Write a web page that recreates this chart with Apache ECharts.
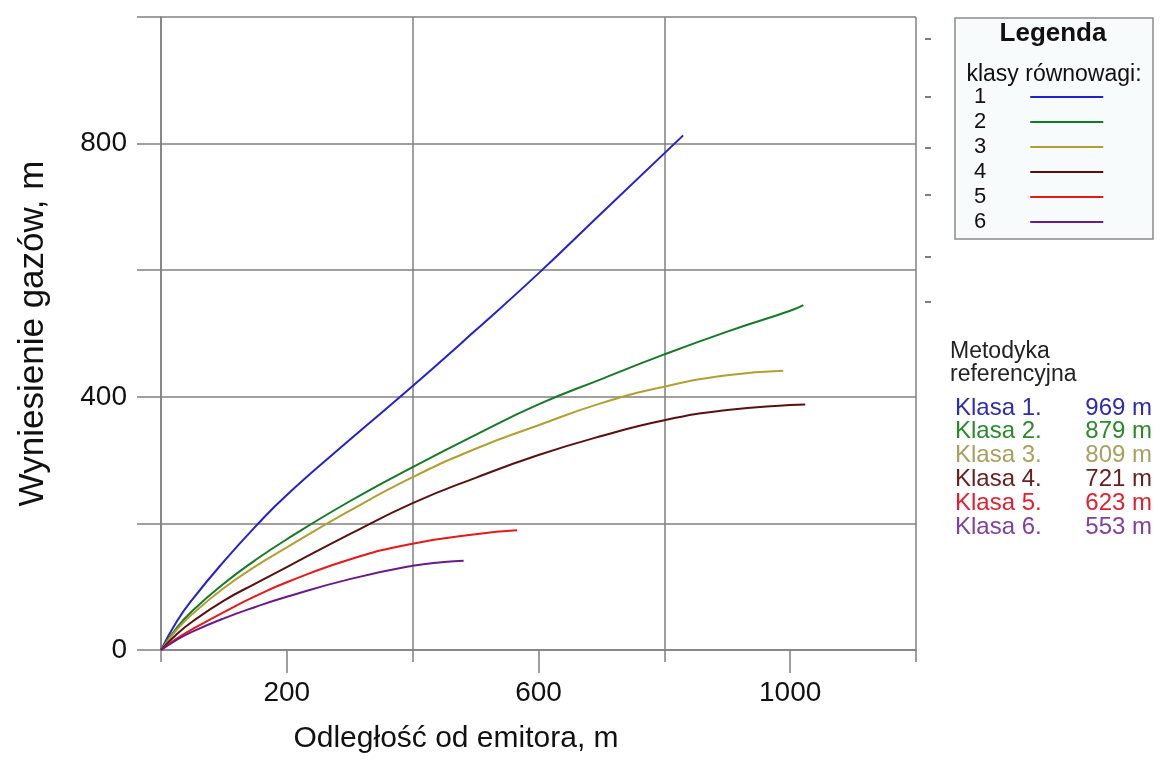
<!DOCTYPE html>
<html>
<head>
<meta charset="utf-8">
<script src="https://cdn.jsdelivr.net/npm/echarts@6/dist/echarts.min.js"></script>
<style>
  html, body { margin: 0; padding: 0; background: #fff; }
  #chart { width: 1163px; height: 767px; }
</style>
</head>
<body>
<div id="chart"></div>
<script>
// distances (m) and plume heights (m), one pair of arrays per class
const class1X = [0, 25, 50, 100, 150, 200, 300, 400, 500, 600, 700, 830]
const class1Y = [0, 45, 80, 140, 195, 245, 332, 417, 505, 595, 690, 813]
const class2X = [0, 25, 50, 100, 150, 200, 300, 400, 500, 600, 700, 800, 900, 1000, 1021]
const class2Y = [0, 35, 62, 105, 142, 175, 235, 289, 340, 388, 428, 467, 503, 536, 545]
const class3X = [0, 25, 50, 100, 150, 200, 300, 400, 500, 600, 700, 800, 900, 989]
const class3Y = [0, 32, 57, 98, 132, 162, 220, 273, 318, 355, 390, 416, 434, 441]
const class4X = [0, 25, 50, 100, 150, 200, 300, 400, 500, 600, 700, 800, 900, 1000, 1024]
const class4Y = [0, 25, 45, 78, 105, 131, 183, 232, 272, 308, 338, 363, 379, 387, 388]
const class5X = [0, 25, 50, 100, 150, 200, 300, 400, 500, 566]
const class5Y = [0, 18, 33, 60, 85, 107, 143, 168, 183, 189]
const class6X = [0, 25, 50, 100, 150, 200, 300, 400, 450, 481]
const class6Y = [0, 16, 29, 50, 68, 84, 112, 133, 139, 141]

const classNames = ['1', '2', '3', '4', '5', '6']
const refLabels = ['Klasa 1.', 'Klasa 2.', 'Klasa 3.', 'Klasa 4.', 'Klasa 5.', 'Klasa 6.']
const refDistances = [969, 879, 809, 721, 623, 553]

const lineColors = ['#2222cc', '#157a25', '#b0a030', '#5a1010', '#e81818', '#6a1a8a']
const textColors = ['#2c2cb0', '#2a8a2a', '#a8a060', '#6a2020', '#e02030', '#8040a0']

const xs = [class1X, class2X, class3X, class4X, class5X, class6X]
const ys = [class1Y, class2Y, class3Y, class4Y, class5Y, class6Y]

const FONT = 'Liberation Sans, Arial, sans-serif'
const GRID = '#808080'

const chart = echarts.init(document.getElementById('chart'))

const series = classNames.map((name, i) => ({
  name,
  type: 'line',
  smooth: true,
  showSymbol: false,
  color: lineColors[i],
  lineStyle: { color: lineColors[i], width: 2 },
  data: xs[i].map((x, j) => [x, ys[i][j]]),
}))

// right side texts and legend frame
const graphics = [
  { type: 'rect', shape: { x: 955, y: 18, width: 198, height: 221 }, style: { fill: '#f8fbfb', stroke: '#8c8c8c', lineWidth: 1.5 }, z: 0 },
  { type: 'text', x: 1053, y: 34, style: { text: 'Legenda', font: 'bold 26px ' + FONT, fill: '#111', align: 'center', verticalAlign: 'middle' } },
  { type: 'text', x: 1054, y: 75, style: { text: 'klasy równowagi:', font: '23px ' + FONT, fill: '#111', align: 'center', verticalAlign: 'middle' } },
  { type: 'text', x: 950, y: 352, style: { text: 'Metodyka', font: '23px ' + FONT, fill: '#222', verticalAlign: 'middle' } },
  { type: 'text', x: 950, y: 375, style: { text: 'referencyjna', font: '23px ' + FONT, fill: '#222', verticalAlign: 'middle' } },
]
refLabels.forEach((label, i) => {
  const y = 408 + i * 23.8
  graphics.push({ type: 'text', x: 955, y, style: { text: label, font: '24px ' + FONT, fill: textColors[i], verticalAlign: 'middle' } })
  graphics.push({ type: 'text', x: 1152, y, style: { text: refDistances[i] + ' m', font: '24px ' + FONT, fill: textColors[i], align: 'right', verticalAlign: 'middle' } })
})
// stray dashes right of the plot
;[39, 97, 148, 195, 257, 302].forEach((y) => {
  graphics.push({ type: 'line', shape: { x1: 925, y1: y, x2: 931, y2: y }, style: { stroke: '#555', lineWidth: 1.5 } })
})

chart.setOption({
  animation: false,
  grid: { left: 161, right: 247, top: 17, bottom: 117 },
  legend: {
    data: classNames,
    orient: 'vertical',
    left: 974,
    top: 86,
    padding: 0,
    align: 'right',
    icon: 'rect',
    itemWidth: 73,
    itemHeight: 2,
    itemGap: 3,
    selectedMode: false,
    textStyle: { fontFamily: FONT, fontSize: 22, color: '#111', lineHeight: 22, padding: [0, 39, 0, 0] },
  },
  xAxis: [
    {
      type: 'value',
      min: 0,
      max: 1200,
      interval: 200,
      name: 'Odległość od emitora, m',
      nameLocation: 'middle',
      nameGap: 74,
      nameTextStyle: { fontFamily: FONT, fontSize: 30, color: '#111', padding: [0, 165, 0, 0] },
      axisLine: { lineStyle: { color: GRID, width: 1.5 } },
      axisTick: { length: 12, lineStyle: { color: GRID, width: 1.5 }, customValues: [0, 400, 800, 1200] },
      axisLabel: { show: false },
      splitLine: { lineStyle: { color: GRID, width: 1.5 } },
    },
    {
      type: 'value',
      position: 'bottom',
      min: 0,
      max: 1200,
      interval: 200,
      axisLine: { show: false },
      axisTick: { length: 23, lineStyle: { color: GRID, width: 1.5 }, customValues: [200, 600, 1000] },
      axisLabel: {
        fontFamily: FONT, fontSize: 28, color: '#111', margin: 29,
        customValues: [200, 600, 1000],
        formatter: (v) => String(v),
      },
      splitLine: { show: false },
    },
  ],
  yAxis: {
    type: 'value',
    min: 0,
    max: 1000,
    interval: 200,
    name: 'Wyniesienie gazów, m',
    nameLocation: 'middle',
    nameGap: 110,
    nameTextStyle: { fontFamily: FONT, fontSize: 35, color: '#111' },
    axisLine: { show: true, lineStyle: { color: GRID, width: 1.5 } },
    axisTick: { show: true, length: 24, lineStyle: { color: GRID, width: 1.5 } },
    axisLabel: {
      fontFamily: FONT, fontSize: 28, color: '#111', margin: 34,
      formatter: (v) => (v % 400 === 0 ? String(v) : ''),
    },
    splitLine: { lineStyle: { color: GRID, width: 1.5 } },
  },
  graphic: graphics,
  series,
})

window.addEventListener('resize', () => chart.resize())
</script>
</body>
</html>
